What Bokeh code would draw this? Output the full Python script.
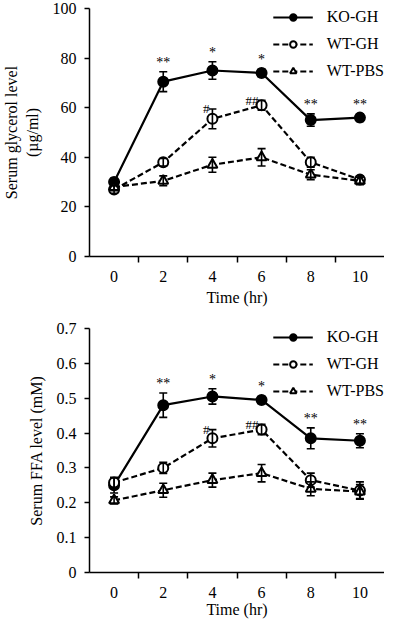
from bokeh.plotting import figure
from bokeh.models import (ColumnDataSource, Whisker, TeeHead, Range1d, FixedTicker,
                          Legend, LegendItem, Label)
from bokeh.layouts import column
from bokeh.embed import file_html
from bokeh.resources import INLINE
from bokeh.core.properties import value

FONT = "Liberation Serif"

time_hr = [0, 2, 4, 6, 8, 10]
x_minor_ticks = [1, 3, 5, 7, 9]
series_names = ["KO-GH", "WT-GH", "WT-PBS"]

# Panel A: serum glycerol (ug/ml)
gly_ko_mean = [30, 70.5, 75, 74, 55, 56]
gly_ko_err = [1.5, 4, 3.5, 1.5, 2.5, 1.5]
gly_wtgh_mean = [27, 38, 55.5, 61, 38, 31]
gly_wtgh_err = [1.5, 1.5, 4, 2, 2, 1.5]
gly_pbs_mean = [28, 30.5, 37, 40, 33, 30.5]
gly_pbs_err = [1.5, 2, 3, 3.5, 2, 1.5]
gly_ko_sig = ["", "**", "*", "*", "**", "**"]
gly_wt_sig = ["", "", "#", "##", "", ""]
gly_yticks = [0, 20, 40, 60, 80, 100]

# Panel B: serum FFA (mM)
ffa_ko_mean = [0.25, 0.48, 0.505, 0.495, 0.385, 0.378]
ffa_ko_err = [0.022, 0.035, 0.022, 0.01, 0.03, 0.02]
ffa_wtgh_mean = [0.258, 0.30, 0.385, 0.41, 0.265, 0.235]
ffa_wtgh_err = [0.015, 0.016, 0.025, 0.015, 0.02, 0.025]
ffa_pbs_mean = [0.207, 0.236, 0.265, 0.285, 0.24, 0.232]
ffa_pbs_err = [0.01, 0.02, 0.02, 0.025, 0.02, 0.02]
ffa_ko_sig = ["", "**", "*", "*", "**", "**"]
ffa_wt_sig = ["", "", "#", "##", "", ""]
ffa_yticks = [0, 0.1, 0.2, 0.3, 0.4, 0.5, 0.6, 0.7]


def make_panel(letter, means, errs, ko_sig, wt_sig, yticks, ylabel, height,
               border_left, border_top, border_bottom, label_standoff):
    p = figure(width=384, height=height, output_backend="svg", toolbar_location=None,
               x_range=Range1d(-1, 11), y_range=Range1d(yticks[0], yticks[-1]),
               min_border_left=border_left, min_border_right=0,
               min_border_top=border_top, min_border_bottom=border_bottom)
    p.outline_line_color = None
    p.xgrid.visible = False
    p.ygrid.visible = False
    p.background_fill_color = "white"

    styles = [
        dict(marker="circle", fill="black", dash="solid"),
        dict(marker="circle", fill="white", dash="6 3"),
        dict(marker="triangle", fill="white", dash="6 3"),
    ]
    items = []
    for name, m, e, st in zip(series_names, means, errs, styles):
        src = ColumnDataSource(dict(
            x=time_hr, y=m,
            upper=[a + b for a, b in zip(m, e)],
            lower=[a - b for a, b in zip(m, e)],
        ))
        ln = p.line("x", "y", source=src, line_color="black", line_width=2.2,
                    line_dash=st["dash"])
        sc = p.scatter("x", "y", source=src, marker=st["marker"], size=10,
                       fill_color=st["fill"], line_color="black", line_width=2)
        w = Whisker(source=src, base="x", upper="upper", lower="lower",
                    line_color="black", line_width=1.6, level="annotation",
                    upper_head=TeeHead(size=8, line_width=1.6, line_color="black"),
                    lower_head=TeeHead(size=8, line_width=1.6, line_color="black"))
        p.add_layout(w)
        items.append(LegendItem(label=name, renderers=[ln, sc]))
        if name == "KO-GH":
            ko_src = src
        if name == "WT-GH":
            wt_src = src

    # significance marks
    ko_src.data["sig"] = ko_sig
    wt_src.data["sig"] = wt_sig
    p.text("x", "upper", text="sig", source=ko_src, text_font=value(FONT),
           text_font_size="14px", text_color="black", text_align="center",
           text_baseline="bottom", y_offset=-2)
    p.text("x", "upper", text="sig", source=wt_src, text_font=value(FONT),
           text_font_size="13px", text_color="black", text_align="right",
           text_baseline="middle", x_offset=-3, y_offset=0)

    legend = Legend(items=items, location="top_right", border_line_color=None,
                    background_fill_alpha=0, label_text_font=FONT,
                    label_text_font_size="16px", label_text_color="black",
                    glyph_width=40, glyph_height=16,
                    label_standoff=14, spacing=9, padding=0, margin=0)
    p.add_layout(legend)

    for ax in (p.xaxis[0], p.yaxis[0]):
        ax.axis_line_width = 1.5
        ax.axis_line_color = "black"
        ax.major_tick_line_width = 1.5
        ax.major_tick_in = 0
        ax.major_tick_out = 5
        ax.major_label_text_font = FONT
        ax.major_label_text_font_size = "16px"
        ax.major_label_text_color = "black"
        ax.axis_label_text_font = FONT
        ax.axis_label_text_font_size = "16px"
        ax.axis_label_text_font_style = "normal"
        ax.axis_label_text_color = "black"

    p.xaxis.ticker = FixedTicker(ticks=time_hr, minor_ticks=x_minor_ticks)
    p.xaxis.major_tick_out = 0
    p.xaxis.minor_tick_out = 6
    p.xaxis.minor_tick_in = 0
    p.xaxis.minor_tick_line_width = 1.5
    p.xaxis.minor_tick_line_color = "black"
    p.xaxis.major_label_standoff = 8
    p.xaxis.axis_label = "Time (hr)"
    p.xaxis.axis_label_standoff = label_standoff
    p.xaxis.axis_label_text_font_style = "normal"

    p.yaxis.ticker = FixedTicker(ticks=yticks, minor_ticks=[])
    p.yaxis.minor_tick_out = 0
    p.yaxis.minor_tick_in = 0
    p.yaxis.major_label_standoff = 8
    p.yaxis.axis_label = ylabel
    p.yaxis.axis_label_standoff = 9
    p.yaxis.axis_label_text_font_style = "normal"

    p.add_layout(Label(x=-1, y=yticks[-1], x_units="data", y_units="data",
                       x_offset=-border_left, text=letter, text_font=FONT,
                       text_font_size="16px", text_color="black",
                       text_baseline="middle", text_align="left"))
    return p


pA = make_panel("A", [gly_ko_mean, gly_wtgh_mean, gly_pbs_mean],
                [gly_ko_err, gly_wtgh_err, gly_pbs_err], gly_ko_sig, gly_wt_sig,
                gly_yticks, "Serum glycerol level\n(\u00b5g/ml)", 308, 74, 8, 49, 4)
pB = make_panel("B", [ffa_ko_mean, ffa_wtgh_mean, ffa_pbs_mean],
                [ffa_ko_err, ffa_wtgh_err, ffa_pbs_err], ffa_ko_sig, ffa_wt_sig,
                ffa_yticks, "Serum FFA level (mM)", 312, 67, 20, 32, 0)

layout = column(pA, pB, spacing=0)
open("out.html", "w").write(file_html(layout, INLINE))
